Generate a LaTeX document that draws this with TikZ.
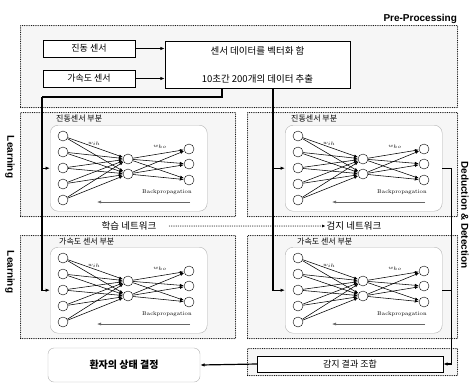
\documentclass[tikz,border=0pt]{standalone}
\usepackage{fontspec}
\setsansfont{Liberation Sans}
\newfontfamily\kr{Noto Sans CJK KR}
\usepackage{tikz}
\usetikzlibrary{arrows.meta, positioning, calc}

\newcommand{\nnet}[3]{%
  \node[netbox, anchor=north west] (#1) at (#2,#3) {};
  \begin{scope}[shift={(#2,#3)}]
    \foreach \k/\y in {1/11,2/27,3/43,4/59,5/75}
      \node[neuron] (#1-i\k) at (13,\y) {};
    \foreach \k/\y in {1/34,2/49}
      \node[neuron] (#1-h\k) at (78,\y) {};
    \foreach \k/\y in {1/24,2/39,3/55}
      \node[neuron] (#1-o\k) at (139,\y) {};
    \foreach \a in {1,...,5}
      \foreach \b in {1,2}
        \draw[syn] (#1-i\a) -- (#1-h\b);
    \foreach \a in {1,2}
      \foreach \b in {1,2,3}
        \draw[syn] (#1-h\a) -- (#1-o\b);
    \node[wlab] (#1-wih) at (44,19) {$w_{ih}$};
    \node[wlab] (#1-who) at (110,22) {$w_{ho}$};
    \node[wlab, anchor=east] (#1-bp) at (142,67) {Backpropagation};
    \coordinate (#1-bs) at (140,77);
    \coordinate (#1-be) at (47,77);
    \draw[syn, draw=gray!80!black] (#1-bs) -- (#1-be);
  \end{scope}}

\begin{document}
\begin{tikzpicture}[x=1pt, y=-1pt,
  zone/.style={rectangle, draw, line width=1.1pt, line cap=round, dash pattern=on 0pt off 1.8pt, fill=gray!7, inner sep=0pt, anchor=north west},
  sbox/.style={rectangle, draw, fill=white, inner sep=0pt, font=\kr\fontsize{9}{10}\selectfont},
  netbox/.style={rectangle, draw=gray!60, rounded corners=8pt, fill=white, minimum width=157pt, minimum height=86pt, inner sep=0pt},
  neuron/.style={circle, draw, fill=white, minimum size=10pt, inner sep=0pt},
  syn/.style={-{Latex[length=4pt,width=3pt]}, line width=0.55pt},
  flow/.style={-{Latex[length=4.5pt,width=3.5pt]}, line width=1.2pt},
  wlab/.style={inner sep=0pt, font=\fontsize{5.5}{6}\selectfont},
  tag/.style={inner sep=1pt, font=\sffamily\bfseries\fontsize{10}{12}\selectfont},
  part/.style={anchor=west, inner sep=0pt, font=\kr\fontsize{8}{9}\selectfont},
  netname/.style={inner sep=1pt, font=\kr\fontsize{9.5}{10}\selectfont}
]
  \useasboundingbox (0,0) rectangle (473,384);
  \fill[white] (0,0) rectangle (473,384);

  \node[zone, minimum width=437pt, minimum height=82pt] (pre) at (20,25) {};
  \node[zone, minimum width=215pt, minimum height=104pt] (ltzone) at (20,112) {};
  \node[zone, minimum width=210pt, minimum height=104pt] (rtzone) at (247,112) {};
  \node[zone, minimum width=215pt, minimum height=103pt] (lbzone) at (20,235) {};
  \node[zone, minimum width=210pt, minimum height=103pt] (rbzone) at (247,235) {};
  \node[zone, minimum width=210pt, minimum height=27pt] (detzone) at (247,348) {};

  \node[tag, anchor=south east] (pretag) at (pre.north east) {Pre-Processing};
  \node[tag, rotate=-90] (learn1) at (10,157) {Learning};
  \node[tag, rotate=-90] (learn2) at (10,272) {Learning};
  \node[tag, rotate=-90] (dedtag) at (465,215) {Deduction \& Detection};

  \node[sbox, minimum width=92pt, minimum height=17pt] (vib) at (89,48.5) {진동 센서};
  \node[sbox, minimum width=92pt, minimum height=17pt] (acc) at (89,78.5) {가속도 센서};
  \node[sbox, minimum width=185pt, minimum height=47pt, align=center, font=\kr\fontsize{9.5}{10}\selectfont] (vec) at (257.5,64.5) {센서 데이터를 벡터화 함\\[18pt]10초간 200개의 데이터 추출};

  \nnet{lt}{50}{125}
  \nnet{rt}{285}{125}
  \nnet{lb}{50}{247}
  \nnet{rb}{285}{247}

  \node[part] (ltlab) at (56,119) {진동센서 부분};
  \node[part] (rtlab) at (291,119) {진동센서 부분};
  \node[part] (lblab) at (59,241) {가속도 센서 부분};
  \node[part] (rblab) at (297,241) {가속도 센서 부분};

  \node[netname] (learnnet) at (129,226) {학습 네트워크};
  \node[netname] (detnet) at (354,226) {검지 네트워크};
  \draw[-{Latex[length=3.5pt,width=3pt]}, line width=1pt, line cap=round, dash pattern=on 0pt off 1.8pt, shorten <=12pt] (learnnet) -- (detnet);

  \node[sbox, minimum width=186pt, minimum height=16pt] (res) at (350,364) {감지 결과 조합};
  \node[sbox, draw=gray!60, rounded corners=6pt, minimum width=152pt, minimum height=34pt, font=\kr\bfseries\fontsize{10}{11}\selectfont] (state) at (124,365) {환자의 상태 결정};

  \draw[flow] (vib) -- (vib -| vec.west);
  \draw[flow] (acc) -- (acc -| vec.west);
  \coordinate (tapL) at (42,97);
  \draw[line width=1.2pt] ([xshift=-35.5pt]vec.south) |- (tapL);
  \draw[flow] (tapL) |- (lt.west);
  \draw[flow] (tapL) |- (lb.west);
  \draw[flow] ([xshift=15.5pt]vec.south) |- (rt.west);
  \draw[flow] ([xshift=15.5pt]vec.south) |- (rb.west);
  \draw[flow] (rt.east) -- ++(9,0) |- (res.east);
  \draw[line width=1.2pt] (rb.east) -- ++(9,0);
  \draw[flow] (res.west) -- (state.east);
\end{tikzpicture}
\end{document}
